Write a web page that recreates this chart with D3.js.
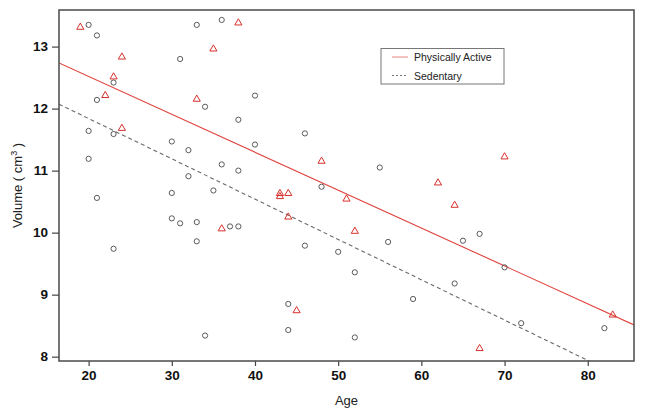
<!DOCTYPE html>
<html><head><meta charset="utf-8">
<script src="https://cdn.jsdelivr.net/npm/d3@7"></script>
<style>body{margin:0;background:#fff}svg{display:block}text{font-family:"Liberation Sans",Arial,sans-serif}</style>
</head><body><svg id="c" width="645" height="417"></svg>
<script>
// Sedentary group (gray circles)
const sedAge = [20,21,23,21,20,23,20,21,33,31,34,30,32,32,30,35,36,40,38,46,40,36,38,55,48,30,31,33,33,23,34,37,38,46,50,56,52,59,44,44,52,67,65,70,64,72,82];
const sedVol = [13.35,13.18,12.42,12.14,11.64,11.59,11.19,10.56,13.35,12.80,12.03,11.47,11.33,10.91,10.64,10.68,13.43,12.21,11.82,11.60,11.42,11.10,11.00,11.05,10.74,10.23,10.15,10.17,9.86,9.74,8.34,10.10,10.10,9.79,9.69,9.85,9.36,8.93,8.85,8.43,8.31,9.98,9.87,9.44,9.18,8.54,8.46];
// Physically active group (red triangles)
const actAge = [19,24,23,22,24,33,35,38,48,43,43,44,51,70,62,64,36,44,52,45,83,67];
const actVol = [13.32,12.84,12.52,12.22,11.69,12.16,12.97,13.39,11.16,10.64,10.59,10.64,10.55,11.23,10.81,10.45,10.07,10.26,10.03,8.75,8.68,8.14];
// Regression lines: [intercept, slope]
const lineNames = ["Physically Active","Sedentary"];
const lineIntercept = [13.74, 13.14];
const lineSlope = [-0.0611, -0.065];
const xTicks = [20,30,40,50,60,70,80];
const yTicks = [8,9,10,11,12,13];

const svg = d3.select("#c");
const L=59, R=634, T=10, B=361;
const x = d3.scaleLinear().domain([16.44,85.56]).range([L,R]);
const y = d3.scaleLinear().domain([7.93,13.59]).range([B,T]);

svg.append("clipPath").attr("id","pc").append("rect").attr("x",L).attr("y",T).attr("width",R-L).attr("height",B-T);

// regression lines
const lineColors=["#e0423c","#6a6a6a"];
const lineDash=[null,"4,3"];
const g = svg.append("g").attr("clip-path","url(#pc)");
lineNames.forEach((n,i)=>{
  const a0=16.44,a1=85.56;
  g.append("line").attr("x1",x(a0)).attr("y1",y(lineIntercept[i]+lineSlope[i]*a0))
   .attr("x2",x(a1)).attr("y2",y(lineIntercept[i]+lineSlope[i]*a1))
   .attr("stroke",lineColors[i]).attr("stroke-width",1.1).attr("stroke-dasharray",lineDash[i]);
});

// points
svg.append("g").selectAll("circle").data(sedAge).join("circle")
  .attr("cx",(d)=>x(d)).attr("cy",(d,i)=>y(sedVol[i])).attr("r",2.6)
  .attr("fill","none").attr("stroke","#5a5a5a").attr("stroke-width",1);
const tri = d3.symbol().type(d3.symbolTriangle).size(22);
svg.append("g").selectAll("path").data(actAge).join("path")
  .attr("d",tri).attr("transform",(d,i)=>`translate(${x(d)},${y(actVol[i])+0.5})`)
  .attr("fill","none").attr("stroke","#d8302c").attr("stroke-width",1);

// axes
const xa = svg.append("g").attr("transform",`translate(0,${B})`)
  .call(d3.axisBottom(x).tickValues(xTicks).tickFormat(d3.format("d")).tickSize(5).tickPadding(4));
const ya = svg.append("g").attr("transform",`translate(${L},0)`)
  .call(d3.axisLeft(y).tickValues(yTicks).tickFormat(d3.format("d")).tickSize(7).tickPadding(4));
[xa,ya].forEach(a=>{
  a.select(".domain").remove();
  a.selectAll("line").attr("stroke","#444").attr("stroke-width",1.2);
  a.selectAll("text").attr("font-size",13.5).attr("font-weight","bold").attr("fill","#111")
   .attr("font-family","'Liberation Sans',Arial,sans-serif");
});

// frame
svg.append("rect").attr("x",L).attr("y",T).attr("width",R-L).attr("height",B-T)
  .attr("fill","none").attr("stroke","#4a4a4a").attr("stroke-width",1.5);

// axis titles
svg.append("text").attr("x",(L+R)/2).attr("y",405).attr("text-anchor","middle")
  .attr("font-size",13).attr("fill","#222").text("Age");
const yl = svg.append("text").attr("transform",`translate(22,${(T+B)/2}) rotate(-90)`)
  .attr("text-anchor","middle").attr("font-size",13).attr("fill","#222");
yl.append("tspan").text("Volume ( cm");
yl.append("tspan").attr("font-size",9).attr("dy",-5).text("3");
yl.append("tspan").attr("dy",5).text(" )");

// legend
const lg = svg.append("g");
lg.append("rect").attr("x",381).attr("y",48.5).attr("width",123).attr("height",35.5)
  .attr("fill","#fff").attr("stroke","#777").attr("stroke-width",1);
lineNames.forEach((n,i)=>{
  const yy = 57 + i*18.5;
  lg.append("line").attr("x1",392).attr("x2",408).attr("y1",yy).attr("y2",yy)
    .attr("stroke",i?"#777":"#e88").attr("stroke-width",1).attr("stroke-dasharray",i?"2,2":null);
  lg.append("text").attr("x",414).attr("y",yy+4).attr("font-size",10.5).attr("fill","#222").text(n);
});
</script></body></html>
